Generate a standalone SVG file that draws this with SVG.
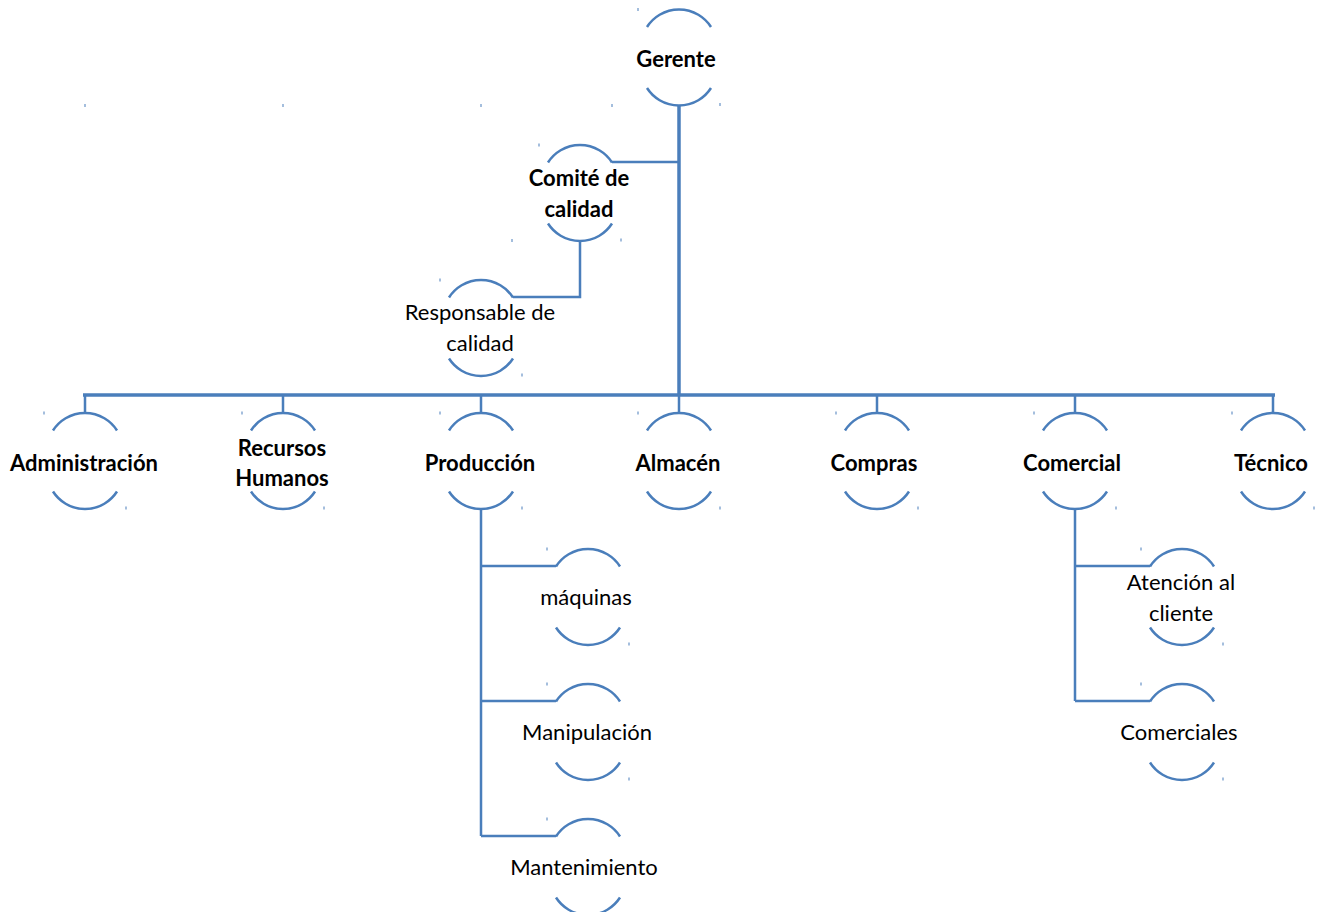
<svg xmlns="http://www.w3.org/2000/svg" xmlns:xlink="http://www.w3.org/1999/xlink" width="1321" height="912" viewBox="0 0 1321 912">
<style>
.arc{fill:none;stroke:#4a7ebb;stroke-width:2.5}
.ln{fill:none;stroke:#4a7ebb;stroke-width:2.5}
.main{fill:none;stroke:#4a7ebb;stroke-width:3.5}
.tk{fill:#4a7ebb}
text{font-family:Lato,"Liberation Sans",sans-serif;font-size:22px;fill:#000;text-anchor:middle}
.b{font-weight:bold}
</style>
<defs>
<g id="shape">
<path class="arc" d="M-32,-31 A38,38 0 0 1 32,-31"/>
<path class="arc" d="M-32,30 A38,38 0 0 0 32,30"/>
<rect class="tk" x="-41.5" y="-50" width="1" height="3"/>
<rect class="tk" x="40.5" y="45" width="1" height="3"/>
</g>
</defs>
<rect width="1321" height="912" fill="#fff"/>
<g id="connectors">
<path class="main" d="M679,106 V395"/>
<path class="main" d="M83,395 H1275"/>
<path class="ln" d="M85,395 V414 M283,395 V414 M481,395 V414 M679,395 V414 M877,395 V414 M1075,395 V414 M1273,395 V414"/>
<path class="ln" d="M612,162 H679"/>
<path class="ln" d="M580,241 V297 H513"/>
<path class="ln" d="M481,510 V836 M481,566 H556 M481,701 H556 M481,836 H556"/>
<path class="ln" d="M1075,510 V701 M1075,566 H1150 M1075,701 H1150"/>
</g>
<g id="strays">
<rect class="tk" x="84.5" y="104" width="1" height="3"/>
<rect class="tk" x="282.5" y="104" width="1" height="3"/>
<rect class="tk" x="480.5" y="104" width="1" height="3"/>
<rect class="tk" x="611.5" y="104" width="1" height="3"/>
<rect class="tk" x="511.5" y="239" width="1" height="3"/>
</g>
<g id="gerente"><use xlink:href="#shape" x="679" y="58"/><text class="b" x="676" y="67">Gerente</text></g>
<g id="comite"><use xlink:href="#shape" x="580" y="193.5"/><text class="b" x="579" y="186">Comité de</text><text class="b" x="579" y="217">calidad</text></g>
<g id="responsable"><use xlink:href="#shape" x="481" y="328.5"/><text x="480" y="320">Responsable de</text><text x="480" y="351">calidad</text></g>
<g id="administracion"><use xlink:href="#shape" x="85" y="461.5"/><text class="b" x="84" y="471">Administración</text></g>
<g id="rrhh"><use xlink:href="#shape" x="283" y="461.5"/><text class="b" x="282" y="456">Recursos</text><text class="b" x="282" y="486">Humanos</text></g>
<g id="produccion"><use xlink:href="#shape" x="481" y="461.5"/><text class="b" x="480" y="471">Producción</text></g>
<g id="almacen"><use xlink:href="#shape" x="679" y="461.5"/><text class="b" x="678" y="471">Almacén</text></g>
<g id="compras"><use xlink:href="#shape" x="877" y="461.5"/><text class="b" x="874" y="471">Compras</text></g>
<g id="comercial"><use xlink:href="#shape" x="1075" y="461.5"/><text class="b" x="1072" y="471">Comercial</text></g>
<g id="tecnico"><use xlink:href="#shape" x="1273" y="461.5"/><text class="b" x="1271" y="471">Técnico</text></g>
<g id="maquinas"><use xlink:href="#shape" x="588" y="597.5"/><text x="586" y="605">máquinas</text></g>
<g id="manipulacion"><use xlink:href="#shape" x="588" y="732.5"/><text x="587" y="740">Manipulación</text></g>
<g id="mantenimiento"><use xlink:href="#shape" x="588" y="867.5"/><text x="584" y="875">Mantenimiento</text></g>
<g id="atencion"><use xlink:href="#shape" x="1182" y="597.5"/><text x="1181" y="590">Atención al</text><text x="1181" y="621">cliente</text></g>
<g id="comerciales"><use xlink:href="#shape" x="1182" y="732.5"/><text x="1179" y="740">Comerciales</text></g>
</svg>
